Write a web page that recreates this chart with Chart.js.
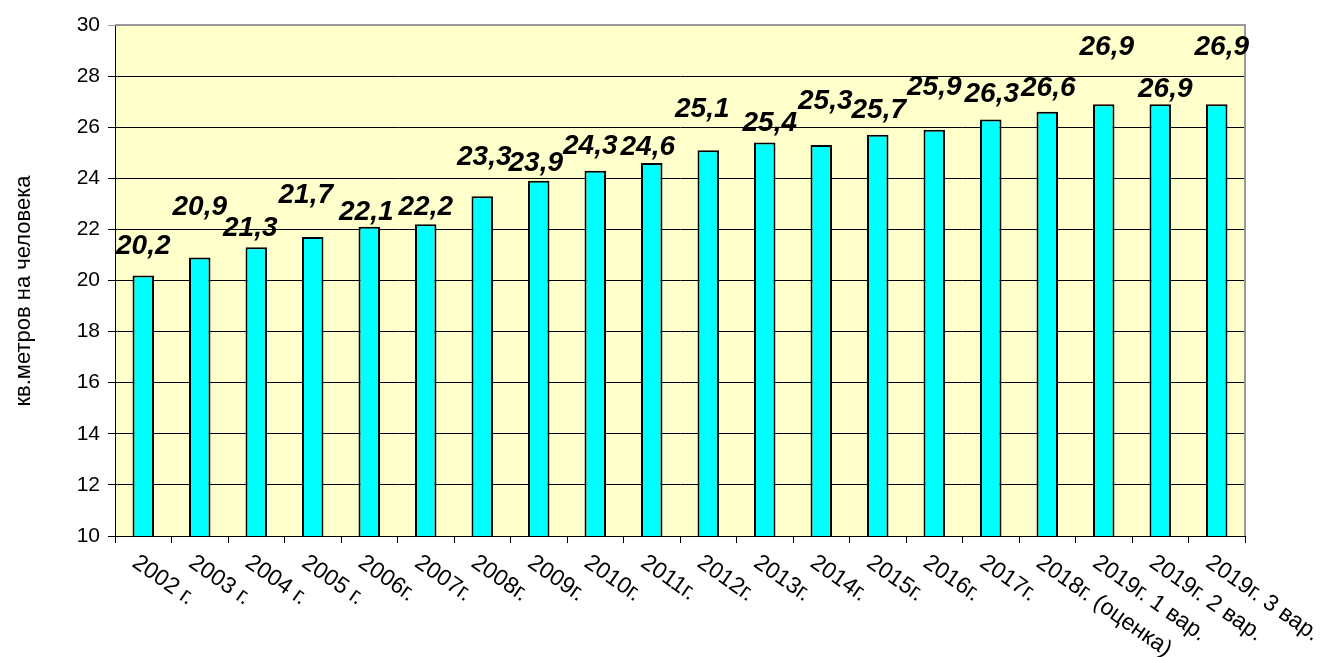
<!DOCTYPE html>
<html>
<head>
<meta charset="utf-8">
<script src="https://cdn.jsdelivr.net/npm/chart.js@4"></script>
<style>
  html, body { margin: 0; padding: 0; background: #fff; }
  #wrap { width: 1325px; height: 657px; position: relative; }
</style>
</head>
<body>
<div id="wrap"><canvas id="chartArea"></canvas></div>
<script>
const categories = [
  "2002 г.", "2003 г.", "2004 г.", "2005 г.", "2006г.", "2007г.", "2008г.",
  "2009г.", "2010г.", "2011г.", "2012г.", "2013г.", "2014г.", "2015г.",
  "2016г.", "2017г.", "2018г. (оценка)", "2019г. 1 вар.", "2019г. 2 вар.",
  "2019г. 3 вар."
];
const areaPerPerson = [
  20.2, 20.9, 21.3, 21.7, 22.1, 22.2, 23.3, 23.9, 24.3, 24.6,
  25.1, 25.4, 25.3, 25.7, 25.9, 26.3, 26.6, 26.9, 26.9, 26.9
];
const yTicks = [10, 12, 14, 16, 18, 20, 22, 24, 26, 28, 30];
const yTitle = "кв.метров на человека";

// подъём подписей над столбцами (как в исходной диаграмме), px
const labelLift = [29, 50, 19, 42, 15, 17, 39, 18, 24, 16, 41, 19, 44, 25, 42, 25, 24, 57, 15, 57];
const labelShift = [0, 0, -6, -7, -3, 0, 2, -3, -5, -4, -6, 5, 4, 1, 0, 1, 1, 3, 5, 5];

const FONT = "'Liberation Sans', Arial, sans-serif";
const el = (id) => document.getElementById(id);
const fmt = (v) => v.toFixed(1).replace(".", ",");

// фон и рамка области построения
const plotBg = {
  id: "plotBg",
  beforeDraw(chart) {
    const { ctx, chartArea: a } = chart;
    ctx.save();
    ctx.fillStyle = "#ffffcc";
    ctx.fillRect(a.left, a.top, a.right - a.left, a.bottom - a.top);
    ctx.restore();
  },
  afterDatasetsDraw(chart) {
    const { ctx, chartArea: a } = chart;
    ctx.save();
    ctx.strokeStyle = "#999999";
    ctx.lineWidth = 2;
    ctx.beginPath();
    ctx.moveTo(a.left, a.top);
    ctx.lineTo(a.right, a.top);
    ctx.lineTo(a.right, a.bottom);
    ctx.stroke();
    ctx.restore();
  },
};

// подписи значений, наклонные подписи категорий и заголовок оси
const labels = {
  id: "labels",
  afterDraw(chart) {
    const { ctx } = chart;
    const meta = chart.getDatasetMeta(0);
    const xs = chart.scales.x;
    ctx.save();
    ctx.fillStyle = "#000";
    ctx.font = "bold italic 28px " + FONT;
    ctx.textAlign = "center";
    ctx.textBaseline = "middle";
    meta.data.forEach((bar, i) => {
      ctx.fillText(fmt(areaPerPerson[i]), bar.x + labelShift[i], bar.y - labelLift[i]);
    });
    ctx.font = "23px " + FONT;
    ctx.textAlign = "left";
    ctx.textBaseline = "top";
    categories.forEach((c, i) => {
      const x = xs.getPixelForValue(i);
      ctx.save();
      ctx.translate(x - 2, xs.top + 15);
      ctx.rotate((35 * Math.PI) / 180);
      ctx.fillText(c, 0, 0);
      ctx.restore();
    });
    // заголовок оси Y
    ctx.save();
    ctx.font = "22px " + FONT;
    ctx.textAlign = "center";
    ctx.textBaseline = "middle";
    ctx.translate(24, 291);
    ctx.rotate(-Math.PI / 2);
    ctx.fillText(yTitle, 0, 0);
    ctx.restore();
    ctx.restore();
  },
};

new Chart(el("chartArea").getContext("2d"), {
  type: "bar",
  data: {
    labels: categories,
    datasets: [
      {
        data: areaPerPerson,
        backgroundColor: "#00ffff",
        borderColor: "#000000",
        borderWidth: 2,
        borderSkipped: false,
        barPercentage: 0.38,
        categoryPercentage: 1,
      },
    ],
  },
  options: {
    responsive: true,
    maintainAspectRatio: false,
    animation: false,
    layout: { padding: { top: 25, right: 80, left: 0, bottom: 0 } },
    plugins: { legend: { display: false }, tooltip: { enabled: false } },
    scales: {
      x: {
        offset: true,
        grid: {
          offset: true,
          drawOnChartArea: false,
          drawTicks: true,
          tickLength: 7,
          color: "#000",
        },
        border: { color: "#000", width: 1 },
        ticks: { display: false },
        afterFit: (s) => { s.height = 121; },
      },
      y: {
        min: 10,
        max: 30,
        afterBuildTicks: (s) => { s.ticks = yTicks.map((v) => ({ value: v })); },
        grid: {
          color: (c) => (c.tick && c.tick.value === 30 ? "#999999" : "#000"),
          lineWidth: 1,
          tickLength: 7,
        },
        border: { color: "#000", width: 1 },
        ticks: {
          color: "#000",
          padding: 8,
          font: { family: FONT, size: 21 },
        },
        afterFit: (s) => { s.width = 115; },
      },
    },
  },
  plugins: [plotBg, labels],
});
</script>
</body>
</html>
